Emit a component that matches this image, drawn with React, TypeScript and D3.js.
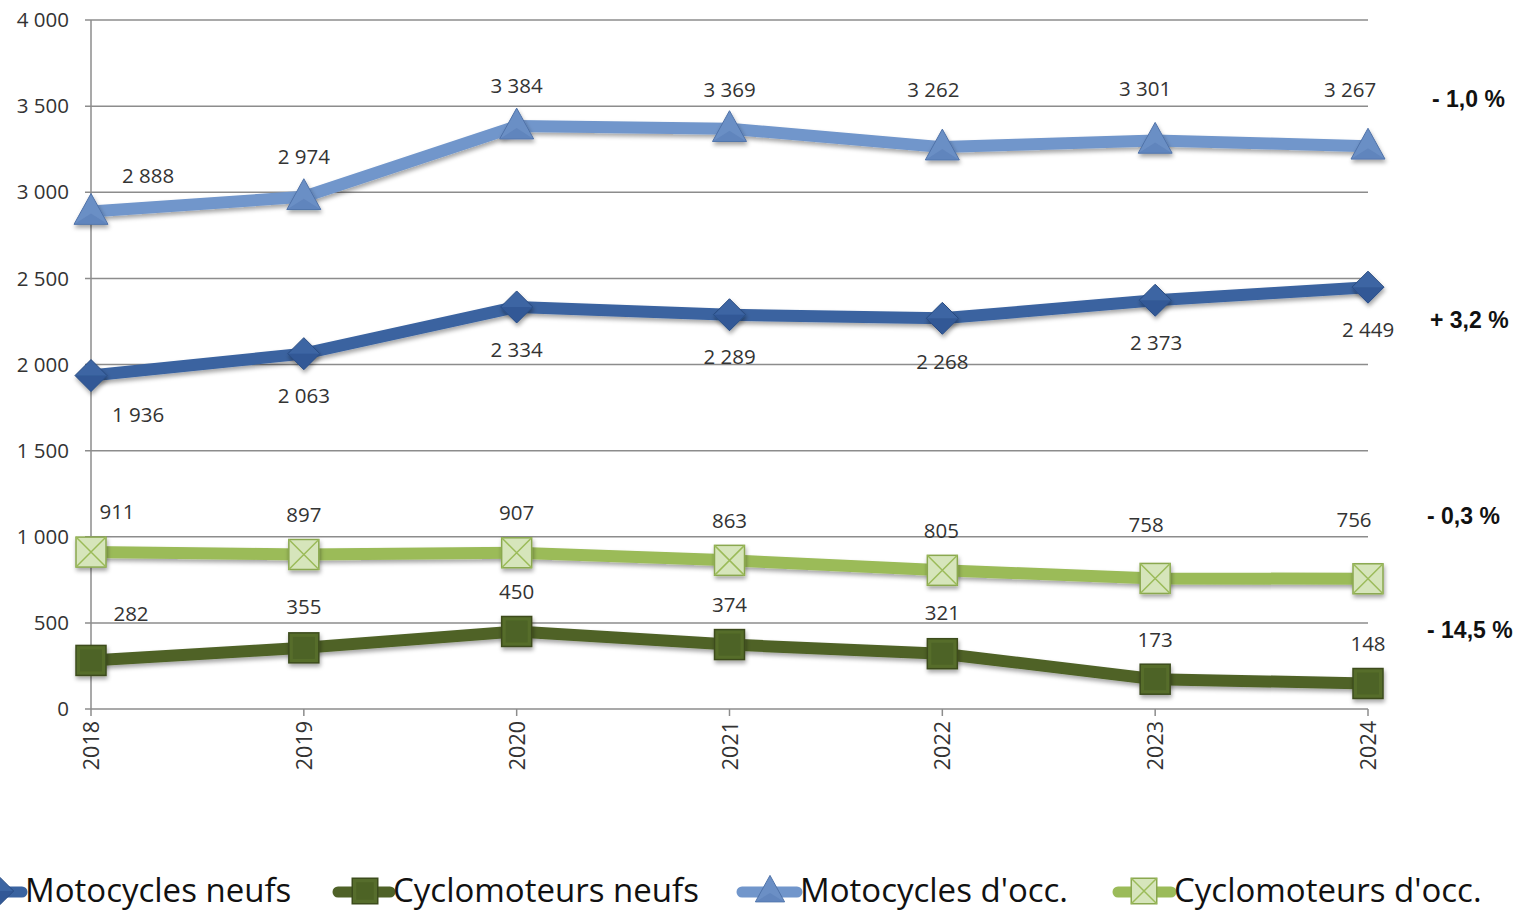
import React from "react";
import * as d3 from "d3";

const years = ["2018", "2019", "2020", "2021", "2022", "2023", "2024"];
const motoNeufs = [1936, 2063, 2334, 2289, 2268, 2373, 2449];
const cycloNeufs = [282, 355, 450, 374, 321, 173, 148];
const motoOcc = [2888, 2974, 3384, 3369, 3262, 3301, 3267];
const cycloOcc = [911, 897, 907, 863, 805, 758, 756];
const yTicks = [0, 500, 1000, 1500, 2000, 2500, 3000, 3500, 4000];
const seriesNames = ["Motocycles neufs", "Cyclomoteurs neufs", "Motocycles d'occ.", "Cyclomoteurs d'occ."];
const evolutions = ["- 1,0 %", "+ 3,2 %", "- 0,3 %", "- 14,5 %"];

const W = 1522, H = 912;
const x = d3.scalePoint<string>().domain(years).range([91, 1368]);
const y = d3.scaleLinear().domain([0, 4000]).range([709, 20]);
const fmt = (v: number) => d3.format(",")(v).replace(/,/g, "\u00a0");
const FONT = "'Open Sans', 'Noto Sans', sans-serif";

type Series = {
  name: string; values: number[]; line: string; fill: string; stroke: string;
  marker: "diamond" | "square" | "triangle" | "xsquare"; ldy: number[]; ldx: number[];
};

// label placement offsets (pixels) relative to each point
const series: Series[] = [
  { name: seriesNames[2], values: motoOcc, line: "#7196cb", fill: "#6b8fc5", stroke: "#4f72a8", marker: "triangle",
    ldy: [-36, -40, -40, -39, -57, -52, -56], ldx: [57, 0, 0, 0, -9, -10, -18] },
  { name: seriesNames[0], values: motoNeufs, line: "#3a63a0", fill: "#3c65a3", stroke: "#274a80", marker: "diamond",
    ldy: [39, 42, 43, 42, 43, 43, 43], ldx: [47, 0, 0, 0, 0, 1, 0] },
  { name: seriesNames[3], values: cycloOcc, line: "#9bbb59", fill: "#d6e5bb", stroke: "#9bbb59", marker: "xsquare",
    ldy: [-40, -40, -40, -40, -40, -54, -59], ldx: [26, 0, 0, 0, -1, -9, -14] },
  { name: seriesNames[1], values: cycloNeufs, line: "#4f6228", fill: "#566d2c", stroke: "#3c4c1c", marker: "square",
    ldy: [-47, -41, -40, -40, -41, -39, -40], ldx: [40, 0, 0, 0, 0, 0, 0] },
];

function Marker({ kind, cx, cy, fill, stroke, s = 1 }: { kind: string; cx: number; cy: number; fill: string; stroke: string; s?: number }) {
  const r = 16 * s;
  if (kind === "triangle") {
    const p = `${cx},${cy - r - 2} ${cx + r + 1},${cy + r * 0.8} ${cx - r - 1},${cy + r * 0.8}`;
    return <g><polygon points={p} fill={fill} stroke={stroke} strokeWidth={1} />
      <polygon points={`${cx},${cy + 2} ${cx + r + 1},${cy + r * 0.8} ${cx - r - 1},${cy + r * 0.8}`} fill="#5a7fb8" opacity={0.6} /></g>;
  }
  if (kind === "diamond") {
    const p = `${cx},${cy - r} ${cx + r},${cy} ${cx},${cy + r} ${cx - r},${cy}`;
    return <g><polygon points={p} fill={fill} stroke={stroke} strokeWidth={1} />
      <polygon points={`${cx - r},${cy} ${cx + r},${cy} ${cx},${cy + r}`} fill="#2d5290" opacity={0.7} /></g>;
  }
  const h = 15 * s;
  if (kind === "xsquare") {
    return <g>
      <rect x={cx - h} y={cy - h} width={2 * h} height={2 * h} fill={fill} stroke="#8aa84f" strokeWidth={1.5} />
      <path d={`M${cx - h},${cy - h}L${cx + h},${cy + h}M${cx + h},${cy - h}L${cx - h},${cy + h}`} stroke="#9bbb59" strokeWidth={1.5} />
    </g>;
  }
  return <g>
    <rect x={cx - h} y={cy - h} width={2 * h} height={2 * h} fill={fill} stroke={stroke} strokeWidth={1.5} />
    <rect x={cx - h + 4} y={cy - h + 4} width={2 * h - 8} height={2 * h - 8} fill="#4d6325" />
  </g>;
}

export default function App() {
  const line = d3.line<number>().x((_, i) => x(years[i])!).y((v) => y(v));
  const legendItems = [
    { s: series[1], lx: -30, tx: 25, mx: 0 },
    { s: series[3], lx: 338, tx: 393, mx: 365 },
    { s: series[0], lx: 742, tx: 800, mx: 770 },
    { s: series[2], lx: 1118, tx: 1174, mx: 1144 },
  ];
  const evoY = [99, 320, 516, 630];
  const evoX = [1432, 1430, 1427, 1427];
  const LY = 892;
  return (
    <svg width={W} height={H} style={{ position: "absolute", left: 0, top: 0, background: "#fff" }} fontFamily={FONT}>
      <defs>
        <filter id="sh" x="-50%" y="-50%" width="200%" height="200%">
          <feDropShadow dx="1" dy="3" stdDeviation="2" floodColor="#000" floodOpacity="0.35" />
        </filter>
      </defs>
      {yTicks.map((t) => (
        <g key={t}>
          <line x1={85} x2={1368} y1={y(t)} y2={y(t)} stroke="#8c8c8c" strokeWidth={1.5} />
          <text x={69} y={y(t)} dy="0.35em" textAnchor="end" fontSize={20.5} fill="#333">{fmt(t)}</text>
        </g>
      ))}
      <line x1={91} x2={91} y1={20} y2={709} stroke="#8c8c8c" strokeWidth={1.5} />
      {years.map((yr) => (
        <g key={yr}>
          <line x1={x(yr)} x2={x(yr)} y1={709} y2={716} stroke="#8c8c8c" strokeWidth={1.5} />
          <text transform={`translate(${x(yr)! + 8},${721}) rotate(-90)`} textAnchor="end" fontSize={21.5} fill="#333">{yr}</text>
        </g>
      ))}
      {series.map((s) => (
        <g key={s.name}>
          <path d={line(s.values)!} fill="none" stroke={s.line} strokeWidth={12} strokeLinejoin="round" filter="url(#sh)" />
          {s.values.map((v, i) => (
            <g key={i} filter="url(#sh)">
              <Marker kind={s.marker} cx={x(years[i])!} cy={y(v)} fill={s.fill} stroke={s.stroke} />
            </g>
          ))}
          {s.values.map((v, i) => (
            <text key={"l" + i} x={x(years[i])! + s.ldx[i]} y={y(v) + s.ldy[i]} dy="0.35em" textAnchor="middle" fontSize={20.5} fill="#333">{fmt(v)}</text>
          ))}
        </g>
      ))}
      {evolutions.map((e, i) => (
        <text key={e} x={evoX[i]} y={evoY[i]} dy="0.35em" fontSize={23} fontWeight="bold" fontFamily="'Liberation Sans', Arial, sans-serif" fill="#111">{e}</text>
      ))}
      {legendItems.map(({ s, lx, tx, mx }) => (
        <g key={s.name}>
          <line x1={lx} x2={tx - 3} y1={LY} y2={LY} stroke={s.line} strokeWidth={11} strokeLinecap="round" />
          <Marker kind={s.marker} cx={mx} cy={LY - 1} fill={s.fill} stroke={s.stroke} s={0.85} />
          <text x={tx} y={902} fontSize={33} fill="#111">{s.name}</text>
        </g>
      ))}
    </svg>
  );
}
